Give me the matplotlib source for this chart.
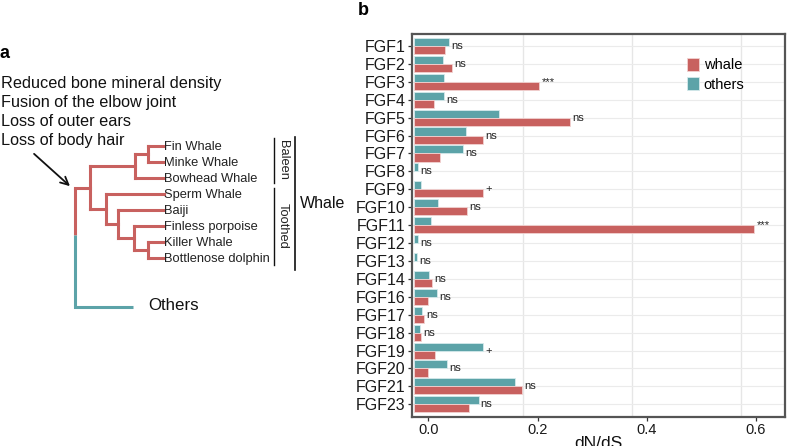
import numpy as np
import matplotlib
matplotlib.use("Agg")
import matplotlib.pyplot as plt

plt.rcParams['font.family'] = ['Liberation Sans', 'DejaVu Sans']

# panel b data (dN/dS)
genes = ["FGF1", "FGF2", "FGF3", "FGF4", "FGF5", "FGF6", "FGF7", "FGF8", "FGF9",
         "FGF10", "FGF11", "FGF12", "FGF13", "FGF14", "FGF16", "FGF17", "FGF18",
         "FGF19", "FGF20", "FGF21", "FGF23"]
whale = [0.030, 0.043, 0.203, 0.011, 0.259, 0.100, 0.022, np.nan, 0.100,
         0.071, 0.597, np.nan, np.nan, 0.007, -0.001, -0.007, -0.013,
         0.012, -0.001, 0.172, 0.075]
others = [0.038, 0.026, 0.028, 0.029, 0.129, 0.069, 0.064, -0.019, -0.014,
          0.018, 0.004, -0.018, -0.020, 0.001, 0.016, -0.011, -0.016,
          0.101, 0.035, 0.159, 0.092]
signif = ["ns", "ns", "***", "ns", "ns", "ns", "ns", "ns", "+",
          "ns", "***", "ns", "ns", "ns", "ns", "ns", "ns",
          "+", "ns", "ns", "ns"]
xticks = [0.0, 0.2, 0.4, 0.6]

# panel a: tree
traits = ["Reduced bone mineral density", "Fusion of the elbow joint",
          "Loss of outer ears", "Loss of body hair"]
tips = ["Fin Whale", "Minke Whale", "Bowhead Whale", "Sperm Whale", "Baiji",
        "Finless porpoise", "Killer Whale", "Bottlenose dolphin"]
# (node x in px, children)
whale_tree = (90, [(135, [(148, ["Fin Whale", "Minke Whale"]), "Bowhead Whale"]),
                   (106, ["Sperm Whale",
                          (118, ["Baiji",
                                 (134, ["Finless porpoise",
                                        (148, ["Killer Whale", "Bottlenose dolphin"])])])])])

RED = "#C8615F"
TEAL = "#5CA3A8"

fig = plt.figure(figsize=(7.87, 4.46), dpi=100)

# ---------- panel a ----------
ax_a = fig.add_axes([0, 0, 1, 1])
ax_a.set_xlim(0, 787)
ax_a.set_ylim(446, 0)
ax_a.axis("off")

tip_x = 163.5
tip_y0, tip_dy = 146, 16.05
tip_y = {t: tip_y0 + i * tip_dy for i, t in enumerate(tips)}
lw_tree = 2.2


def draw(node):
    if isinstance(node, str):
        return tip_x, tip_y[node]
    x, kids = node
    ys = []
    for k in kids:
        kx, ky = draw(k)
        ax_a.plot([x, kx], [ky, ky], color=RED, lw=lw_tree, solid_capstyle="projecting")
        ys.append(ky)
    ax_a.plot([x, x], [min(ys), max(ys)], color=RED, lw=lw_tree, solid_capstyle="projecting")
    return x, (min(ys) + max(ys)) / 2


wx, wy = draw(whale_tree)
root_x, split_y, others_y, others_x = 75, 235, 306.7, 133
ax_a.plot([root_x, wx], [wy, wy], color=RED, lw=lw_tree, solid_capstyle="projecting")
ax_a.plot([root_x, root_x], [wy, split_y], color=RED, lw=lw_tree, solid_capstyle="butt")
ax_a.plot([root_x, root_x, others_x], [split_y, others_y, others_y], color=TEAL,
          lw=lw_tree, solid_capstyle="butt", solid_joinstyle="miter")

for t in tips:
    ax_a.text(tip_x + 0.5, tip_y[t] + 4, t, fontsize=9.3, va="baseline", ha="left", color="#222222")

for i, t in enumerate(traits):
    ax_a.text(1, 88 + 19 * i, t, fontsize=11.7, va="baseline", ha="left", color="#111111")

ax_a.annotate("", xy=(72, 188), xytext=(32, 152),
              arrowprops=dict(arrowstyle="->", lw=1.3, color="#111111", mutation_scale=14))

ax_a.plot([274, 274], [138, 183], color="#111111", lw=1.0)
ax_a.plot([274, 274], [188, 265], color="#111111", lw=1.0)
ax_a.plot([295, 295], [137, 270], color="#111111", lw=1.2)
ax_a.text(283, 160, "Baleen", rotation=-90, fontsize=9.3, ha="center", va="center", color="#222222")
ax_a.text(283, 226, "Toothed", rotation=-90, fontsize=9.3, ha="center", va="center", color="#222222")
ax_a.text(300, 208.3, "Whale", fontsize=11.5, va="baseline", ha="left", color="#111111")
ax_a.text(148, 310, "Others", fontsize=12.2, va="baseline", ha="left", color="#111111")

ax_a.text(0, 58, "a", fontsize=13, fontweight="bold", va="baseline", ha="left")
ax_a.text(358, 15, "b", fontsize=13, fontweight="bold", va="baseline", ha="left")

# ---------- panel b ----------
ax = fig.add_axes([0.5235, 0.0657, 0.474, 0.857])
y = np.arange(len(genes))
base = -0.0265
h = 0.45
ax.barh(y - h / 2, np.array(others) - base, left=base, height=h, color=TEAL,
        edgecolor="#d5eaec", lw=0.6, label="others", zorder=3)
ax.barh(y + h / 2, np.array(whale) - base, left=base, height=h, color=RED,
        edgecolor="#f2d2d1", lw=0.6, label="whale", zorder=3)

for i, s in enumerate(signif):
    top = np.nanmax([whale[i], others[i]])
    ax.text(top + 0.004, i, s, fontsize=8, va="center", ha="left", color="#222222", zorder=4)

ax.set_xlim(-0.0299, 0.6533)
ax.set_ylim(len(genes) - 1 + 0.69, -0.64)
ax.set_yticks(y)
ax.set_yticklabels(genes, fontsize=11.5, color="#1a1a1a")
ax.set_xticks(xticks)
ax.set_xticklabels([f"{t:.1f}" for t in xticks], fontsize=10.5, color="#1a1a1a")
ax.tick_params(length=3, width=0.9, color="#333333", pad=1.5)

for t in xticks[1:]:
    ax.axvline(t + base, color="#e6e6e6", lw=1.0, zorder=1)
for yy in y:
    ax.axhline(yy, color="#ebebeb", lw=0.8, zorder=1)

for sp in ax.spines.values():
    sp.set_color("#555555")
    sp.set_linewidth(1.6)

ax.set_xlabel("dN/dS", fontsize=12.5, labelpad=-0.5, color="#111111")

handles, labels = ax.get_legend_handles_labels()
ax.legend(handles[::-1], labels[::-1], loc="upper left", bbox_to_anchor=(0.873, 0.870),
          bbox_transform=fig.transFigure, frameon=False, fontsize=10.5,
          handlelength=0.85, handleheight=0.95, handletextpad=0.3, labelspacing=0.35,
          borderpad=0, borderaxespad=0)

fig.savefig("out.png", dpi=100)
